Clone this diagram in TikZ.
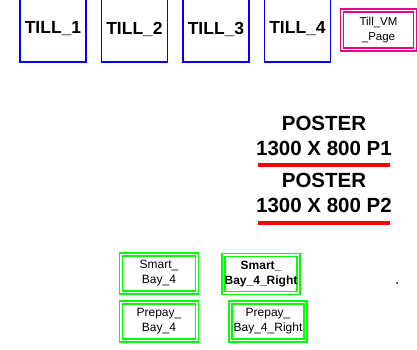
\documentclass[tikz,border=0pt]{standalone}
\usepackage{fontspec}
\setmainfont{Liberation Sans}

\begin{document}
\begin{tikzpicture}[x=1pt,y=-1pt,
    tillbox/.style={draw=blue,line width=1.6pt,minimum width=66,minimum height=66,inner sep=0pt,
        font=\fontsize{17.5}{20}\selectfont\bfseries},
    vmbox/.style={draw=magenta,double=white,line width=1.4pt,double distance=1.5pt,
        minimum width=73,minimum height=39,inner sep=0pt,align=center,
        font=\fontsize{11.5}{15}\selectfont},
    baybox/.style={draw=green,double=white,line width=1.4pt,double distance=1.5pt,
        minimum width=76,minimum height=38,inner sep=0pt,align=center,
        font=\fontsize{12}{15}\selectfont},
    poster/.style={align=center,inner sep=0pt,font=\fontsize{20.5}{25}\selectfont\bfseries},
    redbar/.style={draw=red,line width=3.5pt}]
            \useasboundingbox (0,0) rectangle (417,350);

            \node[tillbox] (till1) at (53,29) {TILL\_1};
            \node[tillbox] (till2) at (134.5,29) {TILL\_2};
            \node[tillbox] (till3) at (216,29) {TILL\_3};
            \node[tillbox] (till4) at (297.5,29) {TILL\_4};
            \node[vmbox] (tillvm) at (378.5,30) {Till\_VM\\\_Page};

            \node[poster] (poster1) at (324,135.5) {POSTER\\1300 X 800 P1};
            \draw[redbar] (258,165) -- (390,165);
            \node[poster] (poster2) at (324,192.5) {POSTER\\1300 X 800 P2};
            \draw[redbar] (258,223) -- (390,223);

            \node[baybox] (smart) at (159,273.5) {Smart\_\\Bay\_4};
            \node[baybox,minimum width=75,font=\fontsize{12}{15}\selectfont\bfseries] (smartright) at (261,274) {Smart\_\\Bay\_4\_Right};
            \node[baybox] (prepay) at (159,321.5) {Prepay\_\\Bay\_4};
            \node[baybox,minimum width=75] (prepayright) at (268,321.5) {Prepay\_\\Bay\_4\_Right};

            \fill (397,283) circle (1pt);
        \end{tikzpicture}
\end{document}
